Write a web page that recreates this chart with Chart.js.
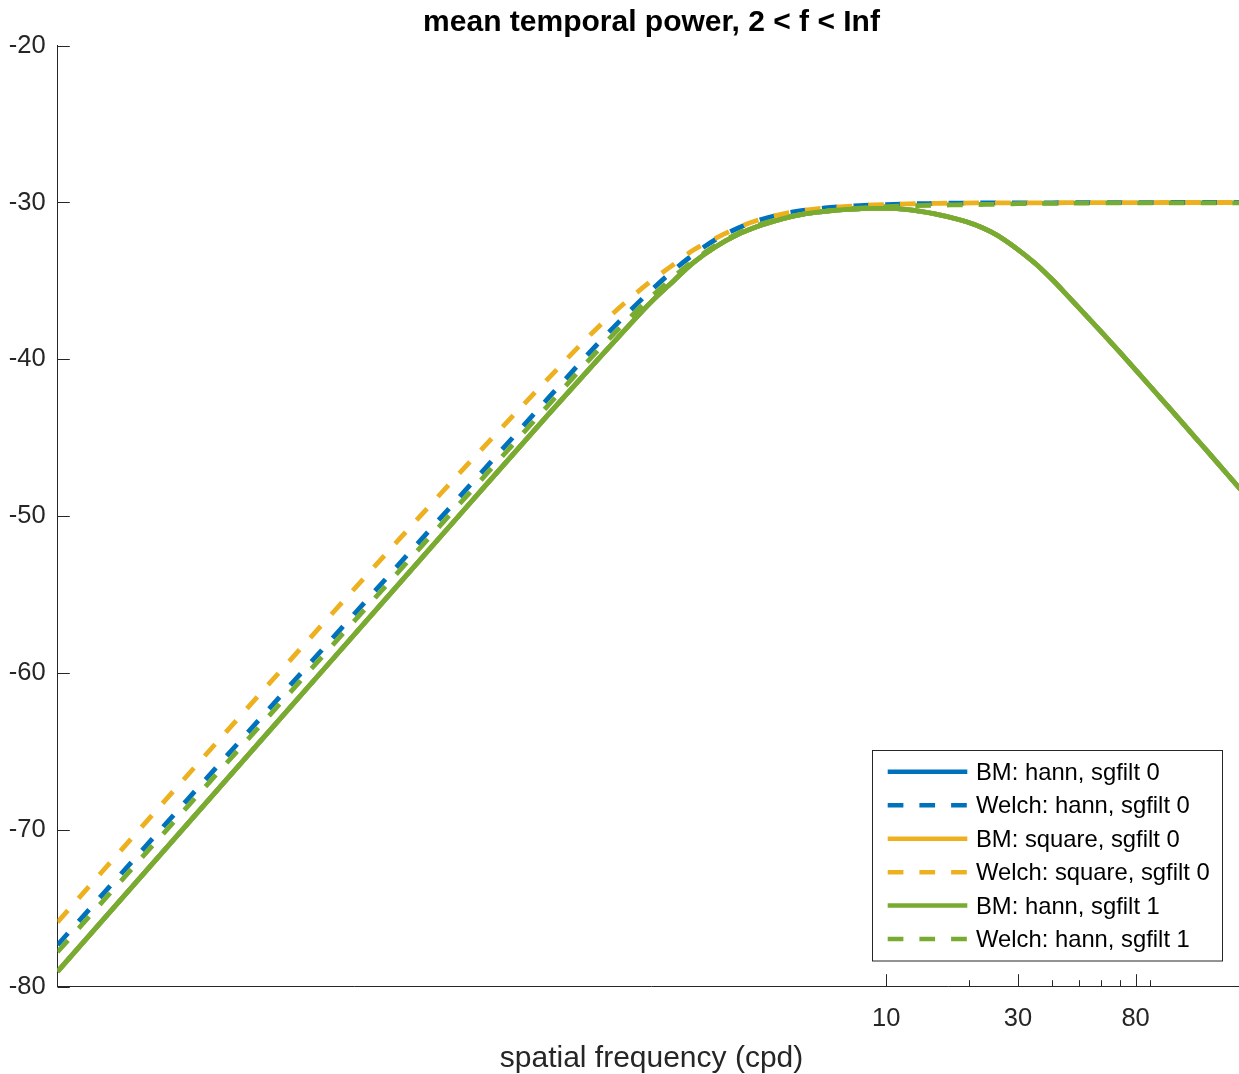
<!DOCTYPE html>
<html>
<head>
<meta charset="utf-8">
<title>mean temporal power</title>
<script src="https://cdn.jsdelivr.net/npm/chart.js@4.4.0/dist/chart.umd.min.js"></script>
<style>
  html, body { margin: 0; padding: 0; overflow: hidden; background: #fff; }
  #wrap { width: 1303px; height: 1074px; }
</style>
</head>
<body>
<div id="wrap"><canvas id="powerChart" width="1303" height="1074"></canvas></div>
<script>
// spatial frequency samples (cpd)
const freq = [0.01, 0.03, 0.1, 0.3, 0.6, 0.9, 1.2, 1.4, 1.7, 2.0, 2.4, 2.9, 3.5, 4.2, 5, 6, 7, 8, 9, 10,
              12, 15, 18, 21, 24, 27, 30, 35, 40, 45, 50, 60, 70, 80, 100, 120, 140, 160, 180, 200];

// BM curves (the three solid lines sit on top of each other)
const bmHann0 = [-79.05, -69.5, -59.05, -49.5, -43.5, -40.05, -37.65, -36.4, -35.0, -33.85, -32.85, -32.05, -31.47, -31.04, -30.74, -30.57, -30.46, -30.40, -30.37, -30.37,
                 -30.45, -30.72, -31.05, -31.42, -31.88, -32.42, -33.0, -33.95, -34.93, -35.87, -36.73, -38.24, -39.53, -40.67, -42.6, -44.18, -45.53, -46.7, -47.74, -48.67];
const bmSquare0 = bmHann0.slice();
const bmHann1 = bmHann0.slice();

// Welch curves
const welchHann0 = [-77.35, -67.95, -57.7, -48.35, -42.45, -39.04, -36.79, -35.65, -34.32, -33.33, -32.38, -31.64, -31.1, -30.74, -30.51, -30.35, -30.26, -30.2, -30.16, -30.13,
                    -30.09, -30.06, -30.04, -30.03, -30.03, -30.02, -30.02, -30.02, -30.02, -30.01, -30.01, -30.01, -30.01, -30.01, -30.0, -30.0, -30.0, -30.0, -30.0, -30.0];
const welchSquare0 = [-75.9, -66.4, -56.1, -46.85, -41.2, -38.0, -36.02, -35.05, -33.95, -33.05, -32.3, -31.6, -31.08, -30.74, -30.51, -30.35, -30.26, -30.2, -30.16, -30.13,
                      -30.09, -30.06, -30.04, -30.03, -30.03, -30.02, -30.02, -30.02, -30.02, -30.01, -30.01, -30.01, -30.01, -30.01, -30.0, -30.0, -30.0, -30.0, -30.0, -30.0];
const welchHann1 = [-77.8, -68.4, -58.15, -48.8, -42.9, -39.48, -37.22, -36.08, -34.74, -33.74, -32.76, -31.98, -31.4, -31.0, -30.75, -30.56, -30.44, -30.36, -30.3, -30.26,
                    -30.21, -30.17, -30.15, -30.13, -30.12, -30.11, -30.07, -30.06, -30.05, -30.05, -30.04, -30.03, -30.03, -30.03, -30.03, -30.02, -30.02, -30.02, -30.02, -30.02];

const seriesLabels = ['BM: hann, sgfilt 0', 'Welch: hann, sgfilt 0', 'BM: square, sgfilt 0',
                      'Welch: square, sgfilt 0', 'BM: hann, sgfilt 1', 'Welch: hann, sgfilt 1'];
const chartTitle = 'mean temporal power, 2 < f < Inf';

// axis ticks
const yTicks = [-80, -70, -60, -50, -40, -30, -20];
const xTicks = [10, 20, 30, 40, 50, 60, 70, 80, 90];
const xLabeled = [10, 30, 80];

const BLUE = '#0072BD', YELLOW = '#EDB120', GREEN = '#77AC30';
const AXIS = '#262626';
const FONT = '"Liberation Sans", Arial, Helvetica, sans-serif';

Chart.defaults.font.family = FONT;

const toPoints = (vals) => freq.map((f, i) => ({ x: f, y: vals[i] }));

const makeSet = (label, vals, color, dashed, order) => ({
    label: label,
    data: toPoints(vals),
    borderColor: color,
    backgroundColor: color,
    borderWidth: 4.8,
    borderDash: dashed ? [15.7, 16] : [],
    pointRadius: 0,
    fill: false,
    cubicInterpolationMode: 'monotone',
    order: order
});

// title centred over the axes (MATLAB style), not over the canvas
const axesTitle = {
    id: 'axesTitle',
    afterDraw(chart) {
        const { ctx, chartArea } = chart;
        ctx.save();
        ctx.fillStyle = '#000';
        ctx.font = 'bold 30px ' + FONT;
        ctx.textAlign = 'center';
        ctx.textBaseline = 'middle';
        ctx.fillText(chartTitle, (chartArea.left + chartArea.right) / 2, 22.5);
        ctx.restore();
    }
};

// tick marks pointing into the plot, like the original
const inwardTicks = {
    id: 'inwardTicks',
    afterDraw(chart) {
        const { ctx, chartArea, scales: { x, y } } = chart;
        ctx.save();
        ctx.strokeStyle = AXIS;
        ctx.lineWidth = 1;
        ctx.beginPath();
        y.ticks.forEach(t => {
            const py = Math.round(y.getPixelForValue(t.value)) + 0.5;
            ctx.moveTo(chartArea.left, py);
            ctx.lineTo(chartArea.left + 12.3, py);
        });
        x.ticks.forEach(t => {
            const px = Math.round(x.getPixelForValue(t.value)) + 0.5;
            const len = xLabeled.includes(t.value) ? 12.3 : 6.3;
            ctx.moveTo(px, chartArea.bottom);
            ctx.lineTo(px, chartArea.bottom - len);
        });
        ctx.stroke();
        ctx.restore();
    }
};

// boxed legend in the lower right corner of the axes
const boxLegend = {
    id: 'boxLegend',
    afterDraw(chart) {
        const { ctx, chartArea } = chart;
        const w = 350, h = 210.5;
        const left = chartArea.right - 23.8 - w;
        const top = chartArea.bottom - 26 - h;
        ctx.save();
        ctx.fillStyle = '#fff';
        ctx.fillRect(left, top, w, h);
        ctx.strokeStyle = AXIS;
        ctx.lineWidth = 1;
        ctx.strokeRect(Math.round(left) + 0.5, Math.round(top) + 0.5, w, h);
        chart.data.datasets.forEach((ds, i) => {
            const cy = top + 21.8 + i * 33.45;
            ctx.strokeStyle = ds.borderColor;
            ctx.lineWidth = 4.5;
            ctx.setLineDash(ds.borderDash);
            ctx.beginPath();
            ctx.moveTo(left + 16, cy);
            ctx.lineTo(left + 95.6, cy);
            ctx.stroke();
            ctx.setLineDash([]);
            ctx.fillStyle = '#000';
            ctx.font = '23.8px ' + FONT;
            ctx.textAlign = 'left';
            ctx.textBaseline = 'middle';
            ctx.fillText(ds.label, left + 104.3, cy + 1.5);
        });
        ctx.restore();
    }
};

const ctx = document.getElementById('powerChart').getContext('2d');
const powerChart = new Chart(ctx, {
    type: 'line',
    data: {
        datasets: [
            makeSet(seriesLabels[0], bmHann0, BLUE, false, 6),
            makeSet(seriesLabels[1], welchHann0, BLUE, true, 5),
            makeSet(seriesLabels[2], bmSquare0, YELLOW, false, 4),
            makeSet(seriesLabels[3], welchSquare0, YELLOW, true, 3),
            makeSet(seriesLabels[4], bmHann1, GREEN, false, 2),
            makeSet(seriesLabels[5], welchHann1, GREEN, true, 1)
        ]
    },
    options: {
        responsive: false,
        animation: false,
        devicePixelRatio: 1,
        layout: { padding: { left: 0, right: 57.5, top: 45.7, bottom: 0 } },
        plugins: {
            legend: { display: false },
            tooltip: { enabled: false },
            title: { display: false }
        },
        scales: {
            x: {
                type: 'logarithmic',
                position: 'bottom',
                min: 0.01,
                max: 200,
                grid: { display: false, drawTicks: false, tickLength: 0 },
                border: { display: true, color: AXIS, width: 1 },
                ticks: {
                    autoSkip: false,
                    maxRotation: 0,
                    padding: 17,
                    color: AXIS,
                    font: { size: 25.5 },
                    callback: (v) => xLabeled.includes(v) ? String(v) : ''
                },
                title: {
                    display: true,
                    text: 'spatial frequency (cpd)',
                    color: AXIS,
                    font: { size: 30 },
                    padding: { top: 0, bottom: -2.5 }
                },
                afterBuildTicks: (scale) => { scale.ticks = xTicks.map(v => ({ value: v })); },
                afterFit: (scale) => { scale.height = 87.5; }
            },
            y: {
                type: 'linear',
                position: 'left',
                min: -80,
                max: -20,
                grid: { display: false, drawTicks: false, tickLength: 0 },
                border: { display: true, color: AXIS, width: 1 },
                ticks: {
                    stepSize: 10,
                    padding: 11.8,
                    color: AXIS,
                    font: { size: 25.5 }
                },
                afterBuildTicks: (scale) => { scale.ticks = yTicks.map(v => ({ value: v })); },
                afterFit: (scale) => { scale.width = 57.5; }
            }
        }
    },
    plugins: [axesTitle, inwardTicks, boxLegend]
});
</script>
</body>
</html>
